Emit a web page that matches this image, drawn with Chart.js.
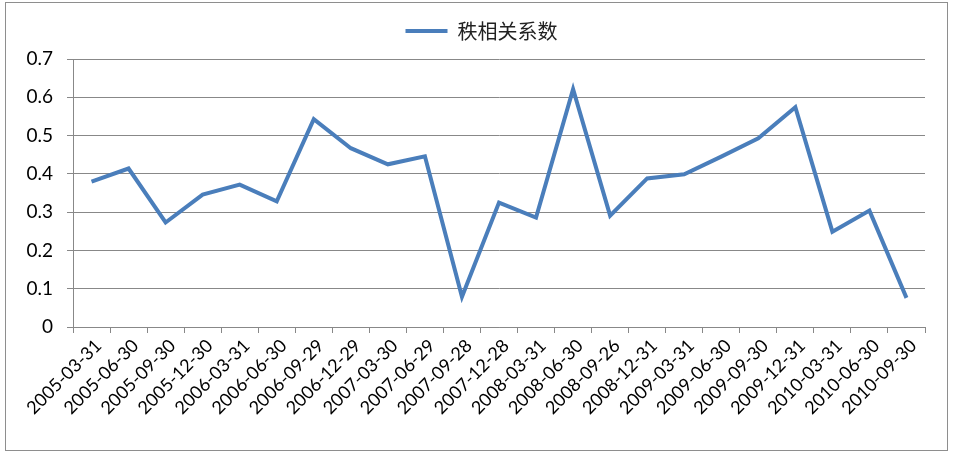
<!DOCTYPE html>
<html>
<head>
<meta charset="utf-8">
<script src="https://cdn.jsdelivr.net/npm/chart.js@4.4.0/dist/chart.umd.min.js"></script>
<style>
  html, body { margin: 0; padding: 0; background: #fff; }
  #wrap { position: relative; width: 954px; height: 453px; }
</style>
</head>
<body>
<div id="wrap"><canvas id="rankChart"></canvas></div>
<script>
const dates = ['2005-03-31', '2005-06-30', '2005-09-30', '2005-12-30', '2006-03-31', '2006-06-30',
    '2006-09-29', '2006-12-29', '2007-03-30', '2007-06-29', '2007-09-28', '2007-12-28',
    '2008-03-31', '2008-06-30', '2008-09-26', '2008-12-31', '2009-03-31', '2009-06-30',
    '2009-09-30', '2009-12-31', '2010-03-31', '2010-06-30', '2010-09-30'];
const rankCorr = [0.380, 0.414, 0.273, 0.346, 0.372, 0.328, 0.543, 0.467, 0.425, 0.446, 0.079, 0.325,
    0.286, 0.621, 0.291, 0.388, 0.399, 0.445, 0.493, 0.574, 0.249, 0.304, 0.076];
const seriesName = '秩相关系数';
const yTicks = [0, 0.1, 0.2, 0.3, 0.4, 0.5, 0.6, 0.7];

const lineBlue = '#4a7ebb';
const gridGray = '#888888';

// outer frame like the spreadsheet chart border, and nudge the legend into place
const framePlugin = {
    id: 'frame',
    afterLayout(chart) {
        const lg = chart.legend;
        if (lg) {
            lg.left += 19; lg.right += 19;
            lg.top -= 8; lg.bottom -= 8;
        }
    },
    beforeDraw(chart) {
        const ctx = chart.ctx;
        ctx.save();
        ctx.fillStyle = '#fff';
        ctx.fillRect(0, 0, chart.width, chart.height);
        ctx.strokeStyle = '#8e8e8e';
        ctx.lineWidth = 1;
        ctx.strokeRect(5.5, 2.5, 942, 448);
        ctx.restore();
    }
};

const ctx = document.getElementById('rankChart').getContext('2d');
new Chart(ctx, {
    type: 'line',
    data: {
        labels: dates,
        datasets: [{
            label: seriesName,
            data: rankCorr,
            borderColor: lineBlue,
            backgroundColor: lineBlue,
            borderWidth: 4,
            pointRadius: 0,
            tension: 0,
            borderJoinStyle: 'miter'
        }]
    },
    options: {
        responsive: true,
        maintainAspectRatio: false,
        animation: false,
        layout: { padding: { top: 10, right: 29, bottom: 0, left: 0 } },
        plugins: {
            legend: {
                display: true,
                position: 'top',
                labels: {
                    usePointStyle: true,
                    pointStyle: 'line',
                    pointStyleWidth: 42,
                    color: '#222',
                    font: { family: '"Noto Sans CJK SC", sans-serif', size: 20 },
                    padding: 19
                }
            },
            tooltip: { enabled: false }
        },
        scales: {
            x: {
                offset: true,
                grid: {
                    offset: true,
                    drawOnChartArea: false,
                    drawTicks: true,
                    tickLength: 6,
                    color: gridGray
                },
                border: { display: true, color: gridGray },
                ticks: {
                    autoSkip: false,
                    maxRotation: 45,
                    minRotation: 45,
                    color: '#000',
                    padding: 2,
                    labelOffset: 7,
                    font: { family: 'Lato, sans-serif', size: 18 }
                },
                afterFit(scale) { scale.height = 126; }
            },
            y: {
                min: 0,
                max: 0.7,
                afterBuildTicks(scale) {
                    scale.ticks = yTicks.map(v => ({ value: v }));
                },
                grid: {
                    color: gridGray,
                    drawTicks: true,
                    tickLength: 6
                },
                border: { display: true, color: gridGray },
                ticks: {
                    color: '#000',
                    padding: 14,
                    font: { family: 'Lato, sans-serif', size: 19 },
                    callback: v => String(Math.round(v * 10) / 10)
                },
                afterFit(scale) { scale.width = 73; }
            }
        }
    },
    plugins: [framePlugin]
});
</script>
</body>
</html>
